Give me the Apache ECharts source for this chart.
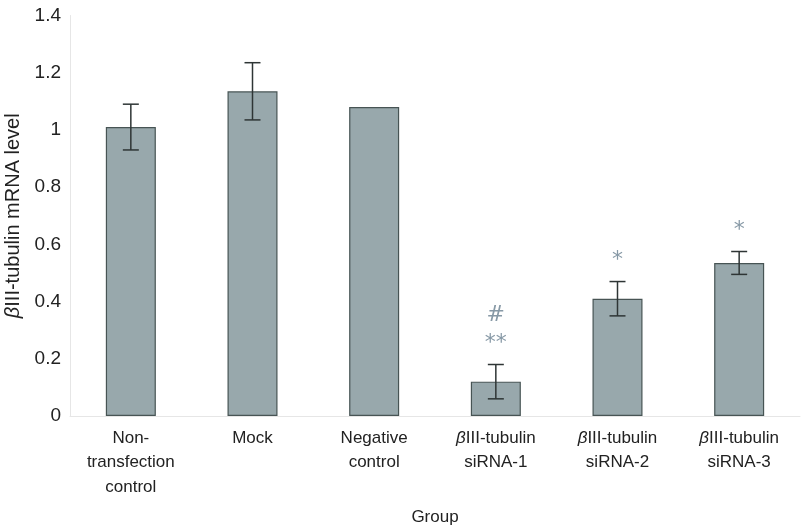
<!DOCTYPE html>
<html>
<head>
<meta charset="utf-8">
<script src="https://cdn.jsdelivr.net/npm/echarts@6/dist/echarts.min.js"></script>
<style>html,body{margin:0;padding:0;background:#fff;}#c{width:803px;height:528px;}</style>
</head>
<body>
<div id="c"></div>
<script>
var categories = ['Non-\ntransfection\ncontrol', 'Mock', 'Negative\ncontrol', '{i|β}III-tubulin\nsiRNA-1', '{i|β}III-tubulin\nsiRNA-2', '{i|β}III-tubulin\nsiRNA-3'];
var values = [1.01, 1.135, 1.08, 0.12, 0.41, 0.535];
var errors = [0.08, 0.10, 0, 0.06, 0.06, 0.04];
var marks = ['', '', '', '#\n**', '*', '*'];
var yTicks = [0, 0.2, 0.4, 0.6, 0.8, 1, 1.2, 1.4];

var chart = echarts.init(document.getElementById('c'));
var errData = values.map(function (v, i) { return [i, v - errors[i], v + errors[i]]; });
var markData = values.map(function (v, i) { return [i, v + errors[i], marks[i]]; });

chart.setOption({
  animation: false,
  grid: { left: 70, right: 3, top: 15.5, bottom: 112, containLabel: false, outerBoundsMode: 'none' },
  xAxis: {
    type: 'category',
    data: categories,
    name: 'Group',
    nameLocation: 'middle',
    nameGap: 93,
    nameTextStyle: { fontFamily: 'Liberation Sans', fontSize: 17, color: '#222' },
    axisLine: { show: true, lineStyle: { color: '#e6e6e6', width: 1 } },
    axisTick: { show: false },
    axisLabel: {
      interval: 0, fontFamily: 'Liberation Sans', fontSize: 17, color: '#222', lineHeight: 24.5, margin: 10,
      rich: { i: { fontStyle: 'italic', fontFamily: 'Liberation Sans', fontSize: 17, color: '#222' } }
    }
  },
  yAxis: {
    type: 'value',
    min: 0, max: 1.4, interval: 0.2,
    name: '{i|β}III-tubulin mRNA level',
    nameLocation: 'middle',
    nameGap: 45,
    nameRotate: 90,
    nameTextStyle: {
      fontFamily: 'Liberation Sans', fontSize: 20, color: '#222',
      rich: { i: { fontStyle: 'italic', fontFamily: 'Liberation Sans', fontSize: 20, color: '#222' } }
    },
    axisLine: { show: true, lineStyle: { color: '#e6e6e6', width: 1 } },
    axisTick: { show: false },
    splitLine: { show: false },
    axisLabel: {
      fontFamily: 'Liberation Sans', fontSize: 19, color: '#222', margin: 9,
      formatter: function (v) { return yTicks.indexOf(Math.round(v * 10) / 10) >= 0 ? String(Math.round(v * 10) / 10) : ''; }
    }
  },
  series: [
    {
      type: 'bar',
      data: values,
      barWidth: 50,
      itemStyle: { color: '#98a8ac', borderColor: '#475454', borderWidth: 1.2 }
    },
    {
      type: 'custom',
      data: errData,
      z: 5,
      renderItem: function (params, api) {
        var i = api.value(0);
        var lo = api.coord([i, api.value(1)]);
        var hi = api.coord([i, api.value(2)]);
        if (Math.abs(hi[1] - lo[1]) < 1) return null;
        var x = lo[0], hw = 8;
        var st = { stroke: '#2e3535', lineWidth: 1.5 };
        return {
          type: 'group',
          children: [
            { type: 'line', shape: { x1: x, y1: hi[1], x2: x, y2: lo[1] }, style: st },
            { type: 'line', shape: { x1: x - hw, y1: hi[1], x2: x + hw, y2: hi[1] }, style: st },
            { type: 'line', shape: { x1: x - hw, y1: lo[1], x2: x + hw, y2: lo[1] }, style: st }
          ]
        };
      }
    },
    {
      type: 'custom',
      data: markData,
      z: 6,
      renderItem: function (params, api) {
        var i = api.value(0);
        var p = api.coord([i, api.value(1)]);
        var t = marks[params.dataIndex];
        if (!t) return null;
        return {
          type: 'text',
          x: p[0], y: p[1] - 7,
          style: {
            text: t, fontFamily: 'DejaVu Sans', fontSize: 22, lineHeight: 28,
            fill: '#8799a6', align: 'center', verticalAlign: 'bottom'
          }
        };
      }
    }
  ]
});
</script>
</body>
</html>
